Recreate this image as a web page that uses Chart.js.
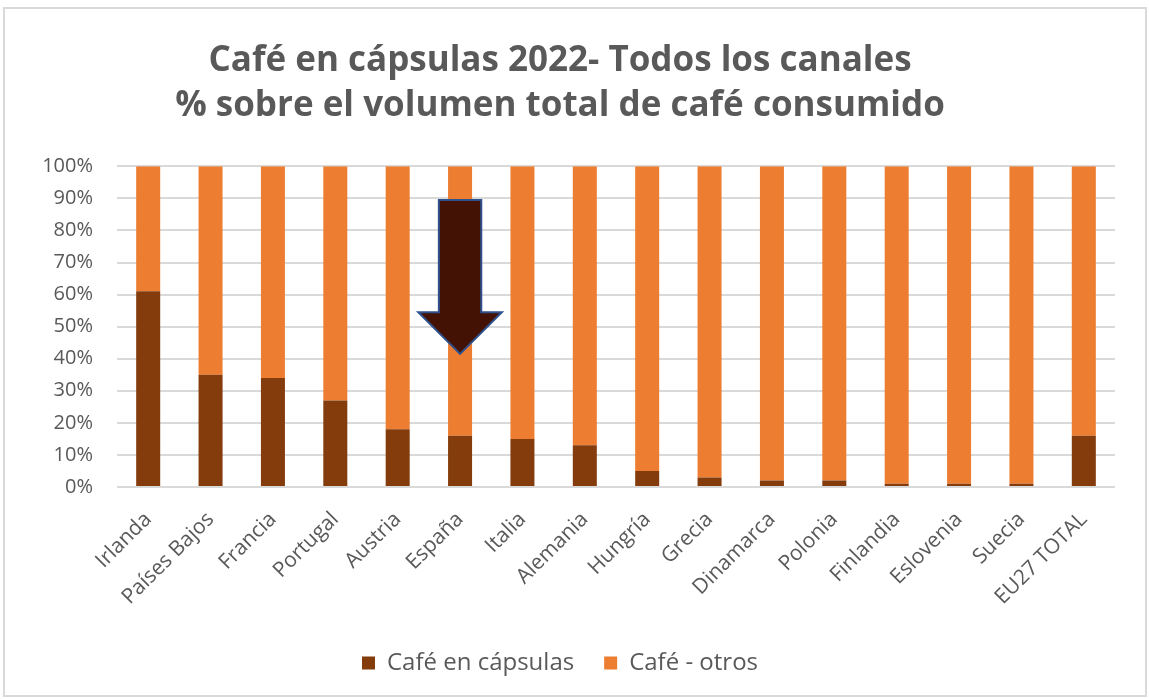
<!DOCTYPE html>
<html>
<head>
<meta charset="utf-8">
<script src="https://cdn.jsdelivr.net/npm/chart.js@4.4.1/dist/chart.umd.min.js"></script>
<style>
  html, body { margin: 0; padding: 0; background: #ffffff; }
  #wrap {
    position: absolute; left: 3px; top: 7px;
    width: 1140px; height: 686px;
    border: 2px solid #d9d9d9;
    background: #ffffff;
  }
</style>
</head>
<body>
<div id="wrap"><canvas id="chartCanvas"></canvas></div>
<script>
const categories = ['Irlanda', 'Países Bajos', 'Francia', 'Portugal', 'Austria', 'España', 'Italia', 'Alemania',
  'Hungría', 'Grecia', 'Dinamarca', 'Polonia', 'Finlandia', 'Eslovenia', 'Suecia', 'EU27 TOTAL'];
const capsulas = [61, 35, 34, 27, 18, 16, 15, 13, 5, 3, 2, 2, 1, 1, 1, 16];
const otros = [39, 65, 66, 73, 82, 84, 85, 87, 95, 97, 98, 98, 99, 99, 99, 84];
const yTicks = [0, 10, 20, 30, 40, 50, 60, 70, 80, 90, 100];

// arrow pointing at España (category index, top / neck / tip in %)
const arrowIndex = 5;
const arrowTop = 89.5;
const arrowNeck = 54.5;
const arrowTip = 41.5;

const textColor = '#595959';
const gridColor = '#d9d9d9';
const darkBrown = '#843c0c';
const orange = '#ed7d31';
const fontFamily = "'Open Sans', 'DejaVu Sans', sans-serif";

const arrowPlugin = {
  id: 'arrow',
  afterDatasetsDraw(chart) {
    const x = chart.scales.x;
    const y = chart.scales.y;
    const cx = x.getPixelForValue(arrowIndex);
    const step = x.getPixelForValue(1) - x.getPixelForValue(0);
    const shaft = step * 0.34;
    const head = step * 0.67;
    const yTop = y.getPixelForValue(arrowTop);
    const yNeck = y.getPixelForValue(arrowNeck);
    const yTip = y.getPixelForValue(arrowTip);
    const ctx = chart.ctx;
    ctx.save();
    ctx.beginPath();
    ctx.moveTo(cx - shaft, yTop);
    ctx.lineTo(cx + shaft, yTop);
    ctx.lineTo(cx + shaft, yNeck);
    ctx.lineTo(cx + head, yNeck);
    ctx.lineTo(cx, yTip);
    ctx.lineTo(cx - head, yNeck);
    ctx.lineTo(cx - shaft, yNeck);
    ctx.closePath();
    ctx.fillStyle = '#441204';
    ctx.fill();
    ctx.lineWidth = 2;
    ctx.strokeStyle = '#2f528f';
    ctx.stroke();
    ctx.restore();
  }
};

new Chart(document.getElementById('chartCanvas').getContext('2d'), {
  type: 'bar',
  data: {
    labels: categories,
    datasets: [{
      label: 'Café en cápsulas',
      data: capsulas,
      backgroundColor: darkBrown,
      categoryPercentage: 1,
      barPercentage: 0.385
    }, {
      label: 'Café - otros',
      data: otros,
      backgroundColor: orange,
      categoryPercentage: 1,
      barPercentage: 0.385
    }]
  },
  options: {
    responsive: true,
    maintainAspectRatio: false,
    animation: false,
    layout: { padding: { left: 0, right: 30, top: 0, bottom: 10 } },
    plugins: {
      title: {
        display: true,
        text: ['Café en cápsulas 2022- Todos los canales', '% sobre el volumen total de café consumido'],
        color: textColor,
        font: { family: fontFamily, size: 35, weight: 'bold', lineHeight: 1.29 },
        padding: { top: 29, bottom: 38 }
      },
      legend: {
        position: 'bottom',
        labels: {
          color: textColor,
          font: { family: fontFamily, size: 24 },
          boxWidth: 13,
          boxHeight: 13,
          padding: 30
        }
      },
      tooltip: { enabled: false }
    },
    scales: {
      x: {
        stacked: true,
        grid: { display: false },
        border: { display: false },
        ticks: {
          color: textColor,
          font: { family: fontFamily, size: 21 },
          maxRotation: 45,
          minRotation: 45,
          autoSkip: false,
          padding: 12
        },
        afterFit(scale) { scale.height = 134; }
      },
      y: {
        stacked: true,
        min: 0,
        max: 100,
        afterBuildTicks(scale) { scale.ticks = yTicks.map(v => ({ value: v })); },
        grid: { color: gridColor, lineWidth: 2, drawTicks: false },
        border: { display: false },
        ticks: {
          color: textColor,
          font: { family: fontFamily, size: 20 },
          padding: 24,
          callback: v => v + '%'
        },
        afterFit(scale) { scale.width = 112; }
      }
    }
  },
  plugins: [arrowPlugin]
});
</script>
</body>
</html>
